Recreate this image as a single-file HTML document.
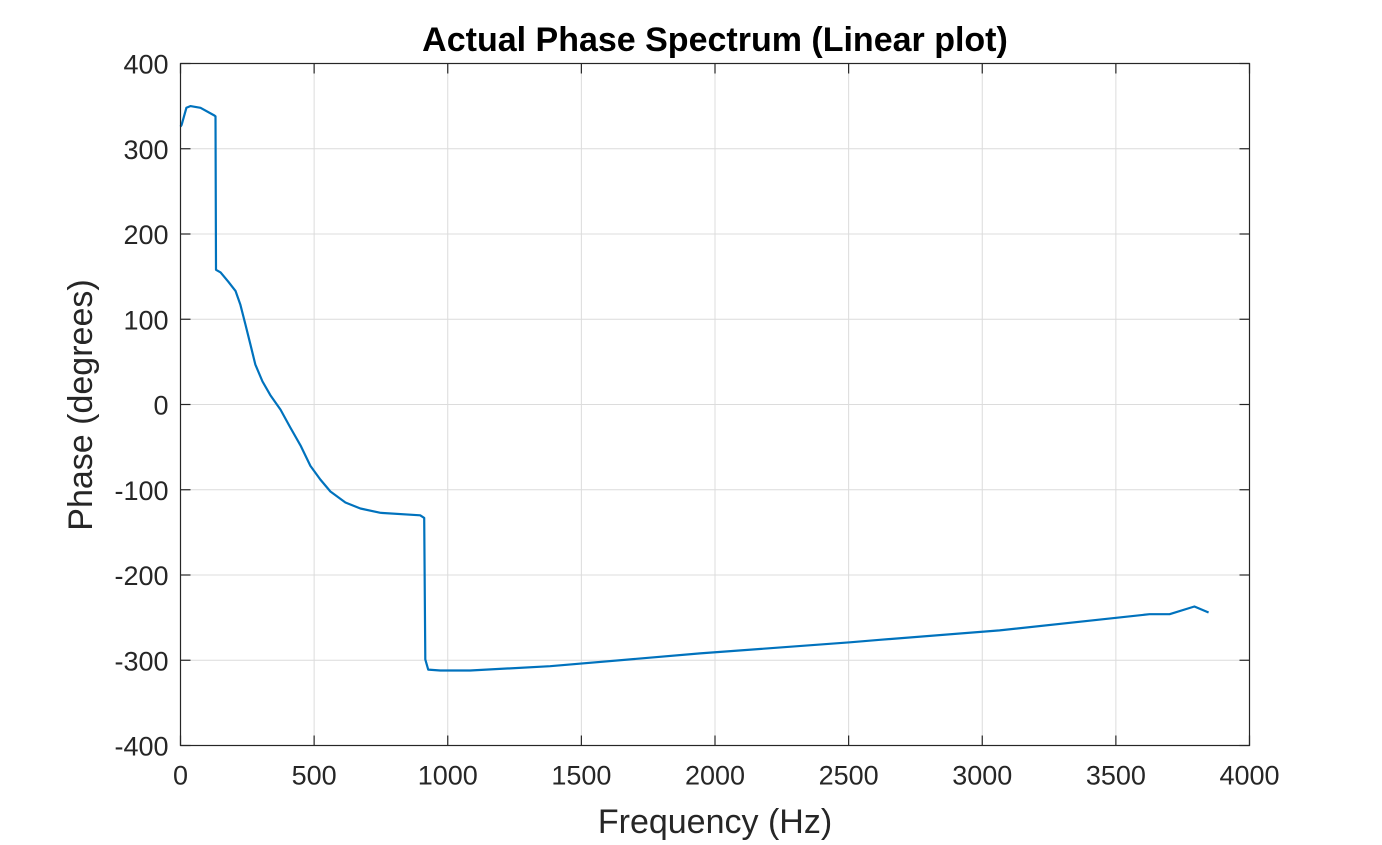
<!DOCTYPE html>
<html><head><meta charset="utf-8"><style>
body{margin:0;background:#fff;}
svg text{font-family:"Liberation Sans",Arial,sans-serif;fill:#262626;}
</style></head><body>
<svg id="chart" width="1382" height="840" xmlns="http://www.w3.org/2000/svg">
<rect width="1382" height="840" fill="#fff"/>
<g id="grid"></g>
<g id="ticks"></g>
<path id="line" fill="none" stroke="#0072BD" stroke-width="2.2" stroke-linejoin="round"/>
<rect x="180.5" y="63.5" width="1069" height="682" fill="none" stroke="#262626" stroke-width="1.2"/>
<text x="715" y="51" font-size="34" font-weight="bold" text-anchor="middle" style="fill:#000">Actual Phase Spectrum (Linear plot)</text>
<text x="715" y="833" font-size="34" text-anchor="middle">Frequency (Hz)</text>
<text transform="translate(92,405) rotate(-90)" font-size="34" text-anchor="middle">Phase (degrees)</text>
</svg>
<script>
const freqs=[0,4,22,37,75,127,131,133,150,179,206,224,243,262,280,307,336,374,411,449,486,523,561,617,673,748,897,912,916,927,972,1084,1383,1944,2505,2617,3065,3626,3701,3794,3847];
const phases=[326,328,348,350,348,339,338,158,155,144,133,117,94,70,47,27,11,-6,-27,-48,-72,-88,-102,-115,-122,-127,-130,-133,-299,-311,-312,-312,-307,-292,-279,-276,-265,-246,-246,-237,-244];
const xTicks=[0,500,1000,1500,2000,2500,3000,3500,4000];
const yTicks=[-400,-300,-200,-100,0,100,200,300,400];
const X0=180.5,X1=1249.5,Y0=745.5,Y1=63.5;
const xs=f=>X0+(f-0)/4000*(X1-X0);
const ys=p=>Y0-(p+400)/800*(Y0-Y1);
const NS="http://www.w3.org/2000/svg";
const grid=document.getElementById('grid'),ticks=document.getElementById('ticks');
function mk(tag,attrs,parent){const e=document.createElementNS(NS,tag);for(const k in attrs)e.setAttribute(k,attrs[k]);parent.appendChild(e);return e;}
xTicks.forEach(t=>{const x=xs(t);
 const g=mk('line',{x1:x,x2:x,y1:Y1,y2:Y0,stroke:'#dcdcdc','stroke-width':1},grid);
 
 
 mk('line',{x1:x,x2:x,y1:Y0,y2:Y0-10,stroke:'#262626','stroke-width':1.2},ticks);
 mk('line',{x1:x,x2:x,y1:Y1,y2:Y1+10,stroke:'#262626','stroke-width':1.2},ticks);
 const tx=mk('text',{x:x,y:Y0+39,'font-size':27,'text-anchor':'middle'},ticks);tx.textContent=t;
 
 
});
yTicks.forEach(t=>{const y=ys(t);
 const g=mk('line',{x1:X0,x2:X1,y1:y,y2:y,stroke:'#dcdcdc','stroke-width':1},grid);
 
 
 mk('line',{x1:X0,x2:X0+10,y1:y,y2:y,stroke:'#262626','stroke-width':1.2},ticks);
 mk('line',{x1:X1,x2:X1-10,y1:y,y2:y,stroke:'#262626','stroke-width':1.2},ticks);
 const tx=mk('text',{x:X0-12,y:y+10,'font-size':27,'text-anchor':'end'},ticks);tx.textContent=t;
 
 
});
document.getElementById('line').setAttribute('d',freqs.map((f,i)=>(i?'L':'M')+xs(f).toFixed(1)+' '+ys(phases[i]).toFixed(1)).join(' '));
</script>
</body></html>
